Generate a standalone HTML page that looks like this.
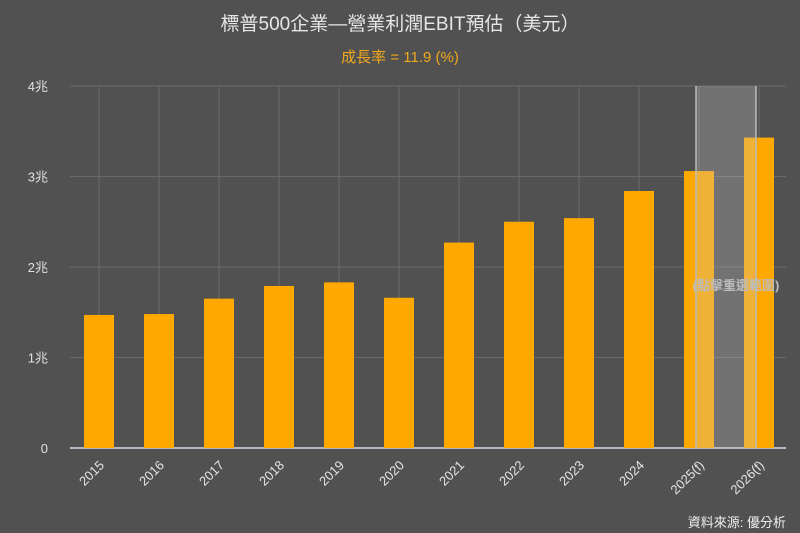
<!DOCTYPE html>
<html><head><meta charset="utf-8"><style>
body{margin:0;background:#515151;}
svg{display:block;font-family:"Liberation Sans","Noto Sans CJK TC",sans-serif;}
</style></head><body>
<svg width="800" height="533" viewBox="0 0 800 533" xmlns="http://www.w3.org/2000/svg">
<rect width="800" height="533" fill="#515151"/>
<text x="400" y="30" text-anchor="middle" fill="#e6e6e6" font-size="19">標普500企業—營業利潤EBIT預估（美元）</text>
<text x="400" y="62" text-anchor="middle" fill="#f0a81c" font-size="15">成長率 = 11.9 (%)</text>
<g id="grid"></g>
<g id="bars"></g>
<g id="band"></g>
<g id="labels"></g>
<text x="736" y="290" text-anchor="middle" fill="#bdbdbd" font-size="13" font-weight="bold">(點擊重選範圍)</text>
<text x="786" y="527" text-anchor="end" fill="#f0f0f0" font-size="13">資料來源: 優分析</text>
</svg>
<script>
const categories=["2015","2016","2017","2018","2019","2020","2021","2022","2023","2024","2025(f)","2026(f)"];
const ebitValues=[1.47,1.48,1.65,1.79,1.83,1.66,2.27,2.50,2.54,2.84,3.06,3.43];
const yTicks=[0,1,2,3,4];
const yTickLabels=["0","1兆","2兆","3兆","4兆"];
const NS="http://www.w3.org/2000/svg";
const x0=70,x1=786,y0=448,yTop=86;
const xC=i=>99+i*60;
const yS=v=>y0-(v/4)*(y0-yTop);
function mk(tag,attrs,parent){const e=document.createElementNS(NS,tag);for(const k in attrs)e.setAttribute(k,attrs[k]);parent.appendChild(e);return e;}
const grid=document.getElementById('grid'),bars=document.getElementById('bars'),band=document.getElementById('band'),labels=document.getElementById('labels');
yTicks.forEach((t,i)=>{
 if(t>0){const l=mk('line',{x1:x0,x2:x1,y1:yS(t),y2:yS(t),stroke:'#6a6a6a','stroke-width':1},grid);
 
 }
 const tx=mk('text',{x:48,y:yS(t)+5,'text-anchor':'end',fill:'#e0e0e0','font-size':13},labels);
 tx.textContent=yTickLabels[i];
 
 
});
categories.forEach((c,i)=>{
 const g=mk('line',{x1:xC(i),x2:xC(i),y1:yTop,y2:y0,stroke:'#6a6a6a','stroke-width':1},grid);
 
 
 const b=mk('rect',{x:xC(i)-15,y:yS(ebitValues[i]),width:30,height:y0-yS(ebitValues[i]),fill:'#ffa800'},bars);
 
 
 const t=mk('text',{x:0,y:0,'text-anchor':'end',fill:'#e6e6e6','font-size':13,transform:`translate(${xC(i)+6},${y0+18}) rotate(-45)`},labels);
 t.textContent=c;
 
 
});
const ax=mk('line',{x1:x0,x2:x1,y1:y0,y2:y0,stroke:'#d8d8e8','stroke-width':1.5},grid);


const bx=xC(10)-3,bw=xC(11)-xC(10);
const br=mk('rect',{x:bx,y:yTop,width:bw,height:y0-yTop,fill:'rgba(200,200,200,0.28)'},band);


[bx,bx+bw].forEach(xx=>{const l=mk('line',{x1:xx,x2:xx,y1:yTop,y2:y0,stroke:'#bbbbbb','stroke-width':1.5},band);
 
 });
</script>
</body></html>
